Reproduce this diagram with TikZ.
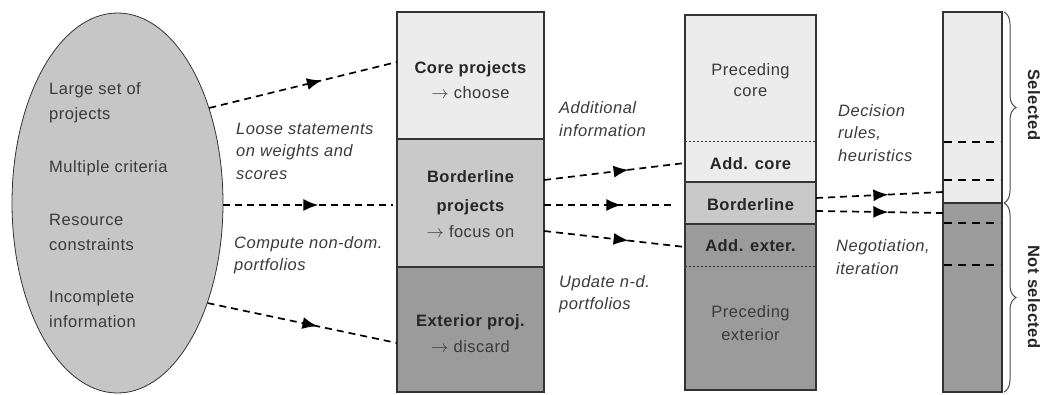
\documentclass[tikz,border=0pt]{standalone}
\usepackage{fontspec}
\setmainfont[LetterSpace=3]{Liberation Sans}
\usetikzlibrary{shapes.geometric,decorations.markings,decorations.pathreplacing,arrows.meta}
\definecolor{lite}{HTML}{ECECEC}
\definecolor{midg}{HTML}{C9C9C9}
\definecolor{darkg}{HTML}{9B9B9B}
\definecolor{ellc}{HTML}{C6C6C6}
\definecolor{txt}{HTML}{3A3A3A}
\definecolor{edge}{HTML}{333333}
\begin{document}
\begin{tikzpicture}[x=1pt,y=-1pt,
  lbl/.style={font=\fontsize{16.5}{22.5}\selectfont\itshape, text=txt, align=left, inner sep=0pt, anchor=west},
  reg/.style={font=\fontsize{16.5}{24}\selectfont, text=txt, inner sep=0pt},
  bld/.style={font=\fontsize{16.5}{24}\selectfont\bfseries, text=black!85, inner sep=0pt},
  sect/.style={rectangle, inner sep=0pt, outer sep=0pt},
  conn/.style={draw=black, line width=1.7pt, dash pattern=on 7pt off 5pt},
  midarr/.style={postaction={decorate}, decoration={markings, mark=at position #1 with {\arrow{Latex[length=15pt,width=12pt]}}}},
  inner/.style={line width=1.9pt, dash pattern=on 8pt off 6pt}
]
\useasboundingbox (0,0) rectangle (1047,394);

% ellipse
\node[ellipse, draw=black!80, line width=0.8pt, fill=ellc, minimum width=211pt, minimum height=380pt, inner sep=0pt] (ell) at (117.5,203) {};
\node[reg, anchor=west] (t1) at (49,90) {Large set of};
\node[reg, anchor=west] (t2) at (49,115) {projects};
\node[reg, anchor=west] (t3) at (49,168) {Multiple criteria};
\node[reg, anchor=west] (t4) at (49,220) {Resource};
\node[reg, anchor=west] (t5) at (49,245) {constraints};
\node[reg, anchor=west] (t6) at (49,298) {Incomplete};
\node[reg, anchor=west] (t7) at (49,322) {information};

% column 1
\node[sect, fill=lite, minimum width=147pt, minimum height=127pt] (c1a) at (470.5,75.5) {};
\node[sect, fill=midg, minimum width=147pt, minimum height=128pt] (c1b) at (470.5,203) {};
\node[sect, fill=darkg, minimum width=147pt, minimum height=125pt] (c1c) at (470.5,329.5) {};
\draw[edge, line width=1.5pt] (c1a.north west) rectangle (c1c.south east);
\draw[edge, line width=1.5pt] (c1a.south west) -- (c1a.south east);
\draw[edge, line width=1.5pt] (c1b.south west) -- (c1b.south east);
\node[bld] (k1) at (470.5,69) {Core projects};
\node[reg] (k2) at (470.5,93) {$\rightarrow$ choose};
\node[bld] (k3) at (470.5,177) {Borderline};
\node[bld] (k4) at (470.5,207) {projects};
\node[reg] (k5) at (470.5,232) {$\rightarrow$ focus on};
\node[bld] (k6) at (470.5,322) {Exterior proj.};
\node[reg] (k7) at (470.5,347) {$\rightarrow$ discard};

% column 2
\node[sect, fill=lite, minimum width=131pt, minimum height=126pt] (pc) at (750.5,78) {};
\node[sect, fill=lite, minimum width=131pt, minimum height=41pt] (ac) at (750.5,161.5) {};
\node[sect, fill=midg, minimum width=131pt, minimum height=42pt] (bl) at (750.5,203) {};
\node[sect, fill=darkg, minimum width=131pt, minimum height=42pt] (ae) at (750.5,245) {};
\node[sect, fill=darkg, minimum width=131pt, minimum height=124pt] (pe) at (750.5,328) {};
\draw[edge, line width=1.5pt] (pc.north west) rectangle (pe.south east);
\draw[edge, line width=1.5pt] (ac.south west) -- (ac.south east);
\draw[edge, line width=1.5pt] (bl.south west) -- (bl.south east);
\draw[edge, line width=0.8pt, dash pattern=on 2pt off 2pt] (pc.south west) -- (pc.south east);
\draw[edge, line width=0.8pt, dash pattern=on 2pt off 2pt] (ae.south west) -- (ae.south east);
\node[reg] (m1) at (750.5,71) {Preceding};
\node[reg] (m2) at (750.5,92) {core};
\node[bld] (m3) at (750.5,164) {Add. core};
\node[bld] (m4) at (750.5,205) {Borderline};
\node[bld] (m5) at (750.5,246) {Add. exter.};
\node[reg] (m6) at (750.5,313) {Preceding};
\node[reg] (m7) at (750.5,335) {exterior};

% column 3
\node[sect, fill=lite, minimum width=59pt, minimum height=191pt] (sel) at (972.5,107.5) {};
\node[sect, fill=darkg, minimum width=59pt, minimum height=189pt] (nsel) at (972.5,297.5) {};
\draw[edge, line width=1.5pt] (sel.north west) rectangle (nsel.south east);
\draw[edge, line width=1.5pt] (sel.south west) -- (sel.south east);
\draw[inner] ([shift={(1pt,61pt)}]sel.south west) -- ([shift={(-2pt,61pt)}]sel.south east);
\draw[line width=1.2pt, dash pattern=on 8pt off 6pt] ([shift={(1pt,23pt)}]sel.south west) -- ([shift={(-2pt,23pt)}]sel.south east);
\draw[inner] ([shift={(1pt,-20pt)}]nsel.north west) -- ([shift={(-2pt,-20pt)}]nsel.north east);
\draw[inner] ([shift={(1pt,-62pt)}]nsel.north west) -- ([shift={(-2pt,-62pt)}]nsel.north east);
\draw[black!70, line width=1pt, decorate, decoration={brace, amplitude=12pt}] ([xshift=2pt]sel.north east) -- ([xshift=2pt]sel.south east);
\draw[black!70, line width=1pt, decorate, decoration={brace, amplitude=12pt}] ([xshift=2pt]nsel.north east) -- ([xshift=2pt]nsel.south east);
\node[bld, rotate=-90] (s1) at (1034,105) {Selected};
\node[bld, rotate=-90] (s2) at (1034,297) {Not selected};

% labels
\node[lbl] (l1) at (236,151) {Loose statements\\on weights and\\scores};
\node[lbl] (l2) at (234,255) {Compute non-dom.\\portfolios};
\node[lbl] (l3) at (559,119) {Additional\\information};
\node[lbl] (l4) at (559,294) {Update n-d.\\portfolios};
\node[lbl] (l5) at (838,133) {Decision\\rules,\\heuristics};
\node[lbl] (l6) at (836,257) {Negotiation,\\iteration};

% connectors
\draw[conn, midarr=0.6] (ell.46.5) -- ([yshift=13.5pt]c1a.west);
\draw[conn, midarr=0.56] ([yshift=-2pt]ell.east) -- ([shift={(-4pt,-2pt)}]c1b.west);
\draw[conn, midarr=0.58] (ell.-48) -- ([yshift=-13.5pt]c1c.west);
\draw[conn, midarr=0.6] ([yshift=23pt]c1b.east) -- ([yshift=-1.5pt]ac.west);
\draw[conn, midarr=0.6] ([yshift=-2pt]c1b.east) -- ([shift={(-12pt,-2pt)}]bl.west);
\draw[conn, midarr=0.6] ([yshift=-28pt]c1b.east) -- ([yshift=-2pt]ae.west);
\draw[conn, midarr=0.57] ([yshift=5pt]bl.east) -- ([yshift=-84.5pt]sel.west);
\draw[conn, midarr=0.57] ([yshift=-8pt]bl.east) -- ([yshift=-10pt]sel.south west);
\end{tikzpicture}
\end{document}
